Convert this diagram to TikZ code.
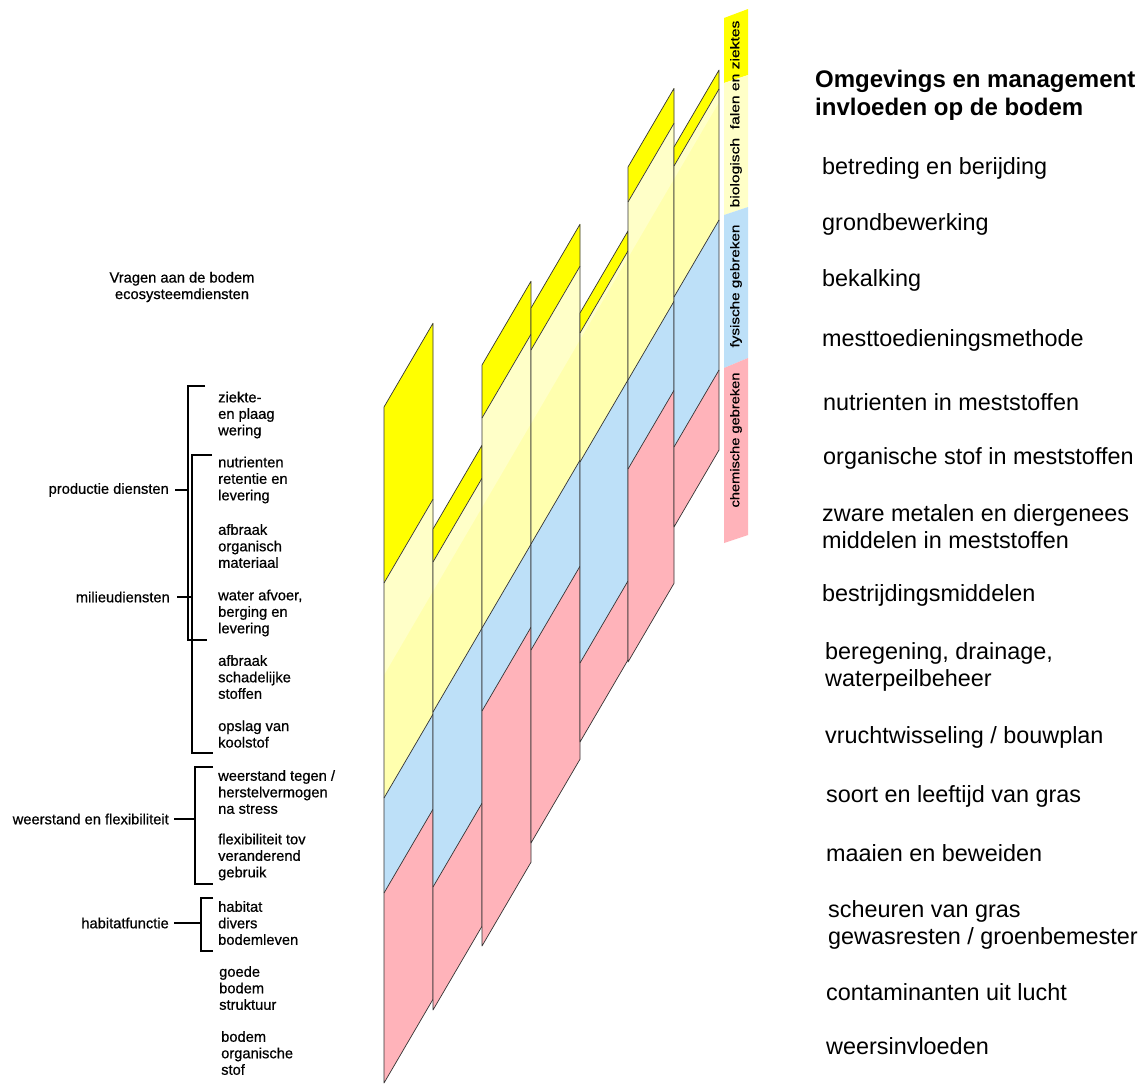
\documentclass[tikz,border=0pt]{standalone}
\usepackage{fontspec}
\setmainfont{Liberation Sans}
\newfontfamily\smallfnt[FakeBold=0.6]{Liberation Sans}
\definecolor{cY}{HTML}{FFFF00}
\definecolor{cPL}{HTML}{FFFFC8}
\definecolor{cPD}{HTML}{FFFFAE}
\definecolor{cB}{HTML}{BDE0F8}
\definecolor{cP}{HTML}{FFB3BA}
\tikzset{
 band/.style={draw=black!80, line width=0.7pt, line join=round},
 brk/.style={line width=1.5pt},
 lbl/.style={inner sep=0, anchor=east, font=\smallfnt\fontsize{14.7}{16.5}\selectfont},
 itm/.style={inner sep=0, anchor=west, align=left, font=\smallfnt\fontsize{14.7}{16.5}\selectfont},
 rit/.style={inner sep=0, anchor=west, align=left, font=\fontsize{23.4}{27}\selectfont},
 bartxt/.style={inner sep=0, rotate=90, font=\smallfnt\fontsize{12.5}{14}\selectfont},
}
\newcommand{\mypanel}[7]{%
 \pgfmathsetmacro{\pdy}{1.71*(#2-#1)}%
 \pgfmathsetmacro{\dva}{675-1.71*(#1-384)}%
 \pgfmathsetmacro{\dvb}{675-1.71*(#2-384)}%
 \fill[cY] (#1,#3) -- (#2,#3-\pdy) -- (#2,#4-\pdy) -- (#1,#4) -- cycle;
 \fill[cPD] (#1,#4) -- (#2,#4-\pdy) -- (#2,#5-\pdy) -- (#1,#5) -- cycle;
 \begin{scope}
 \clip (#1,#4) -- (#2,#4-\pdy) -- (#2,#5-\pdy) -- (#1,#5) -- cycle;
 \fill[cPL] (#1,\dva) -- (#2,\dvb) -- (#2,-50) -- (#1,-50) -- cycle;
 \end{scope}
 \fill[cB] (#1,#5) -- (#2,#5-\pdy) -- (#2,#6-\pdy) -- (#1,#6) -- cycle;
 \fill[cP] (#1,#6) -- (#2,#6-\pdy) -- (#2,#7-\pdy) -- (#1,#7) -- cycle;
 \draw[band] (#1,#3) -- (#2,#3-\pdy) -- (#2,#7-\pdy) -- (#1,#7) -- cycle;
 \draw[band] (#1,#4) -- (#2,#4-\pdy);
 \draw[band] (#1,#5) -- (#2,#5-\pdy);
 \draw[band] (#1,#6) -- (#2,#6-\pdy);
}
\begin{document}
\begin{tikzpicture}[x=1pt,y=-1pt]
\useasboundingbox[fill=white] (0,0) rectangle (1145,1084);

% panels
\mypanel{384}{433}{407}{583}{798}{893}{1083}
\mypanel{433}{482}{529}{562}{712}{887}{1010}
\mypanel{482}{531}{365}{418}{628}{711}{946}
\mypanel{531}{580}{308}{350}{544}{650}{843}
\mypanel{580}{628}{313}{333}{462}{663}{742}
\mypanel{628}{674}{167}{202}{380}{469}{662}
\mypanel{674}{719}{147}{166}{297}{447}{527}

% side bar
\fill[cY] (724,18) -- (748,9) -- (748,75) -- (724,83) -- cycle;
\fill[cPL] (724,83) -- (748,75) -- (748,207) -- (724,215) -- cycle;
\fill[cB] (724,215) -- (748,207) -- (748,358) -- (724,368) -- cycle;
\fill[cP] (724,368) -- (748,358) -- (748,535) -- (724,543) -- cycle;
\node[bartxt] (b1) at (736,114) {\scalebox{1.25}[1]{biologisch\ \ falen en ziektes}};
\node[bartxt] (b2) at (736,286) {\scalebox{1.22}[1]{fysische gebreken}};
\node[bartxt] (b3) at (736,440) {\scalebox{1.17}[1]{chemische gebreken}};

% left header
\node[inner sep=0, align=center, font=\smallfnt\fontsize{14.7}{16.5}\selectfont] (hdr) at (182,287) {Vragen aan de bodem\\ecosysteemdiensten};

% left items
\node[itm] (i1) at (218,415) {ziekte-\\en plaag\\wering};
\node[itm] (i2) at (218,480) {nutrienten\\retentie en\\levering};
\node[itm] (i3) at (218,546) {afbraak\\organisch\\materiaal};
\node[itm] (i4) at (218,613) {water afvoer,\\berging en\\levering};
\node[itm] (i5) at (218,677) {afbraak\\schadelijke\\stoffen};
\node[itm] (i6) at (218,734) {opslag van\\koolstof};
\node[itm] (i7) at (218,792) {weerstand tegen /\\herstelvermogen\\na stress};
\node[itm] (i8) at (218,857) {flexibiliteit tov\\veranderend\\gebruik};
\node[itm] (i9) at (218,923) {habitat\\divers\\bodemleven};
\node[itm] (i10) at (219,988) {goede\\bodem\\struktuur};
\node[itm] (i11) at (221,1053) {bodem\\organische\\stof};

% group labels
\node[lbl] (g1) at (169,490) {productie diensten};
\node[lbl] (g2) at (170,597) {milieudiensten};
\node[lbl] (g3) at (169,819) {weerstand en flexibiliteit};
\node[lbl] (g4) at (169,923) {habitatfunctie};

% brackets
\draw[brk] (205,386) -- (188,386) -- (188,640) -- (207,640);
\draw[brk] ([xshift=6pt]g1.east) -- (188,490);
\draw[brk] (212,455) -- (192,455) -- (192,753) -- (213,753);
\draw[brk] ([xshift=7pt]g2.east) -- (192,597);
\draw[brk] (213,767) -- (195,767) -- (195,884) -- (213,884);
\draw[brk] ([xshift=5pt]g3.east) -- (195,819);
\draw[brk] (213,898) -- (201,898) -- (201,951) -- (213,951);
\draw[brk] ([xshift=5pt]g4.east) -- (201,923);

% right title and items
\node[inner sep=0, anchor=west, align=left, font=\bfseries\fontsize{24}{28}\selectfont] (ttl) at (815,95) {Omgevings en management\\invloeden op de bodem};
\node[rit] (r1) at (822,168) {betreding en berijding};
\node[rit] (r2) at (822,224) {grondbewerking};
\node[rit] (r3) at (822,280) {bekalking};
\node[rit] (r4) at (822,340) {mesttoedieningsmethode};
\node[rit] (r5) at (823,402) {nutrienten in meststoffen};
\node[rit] (r6) at (823,458) {organische stof in meststoffen};
\node[rit] (r7) at (822,527) {zware metalen en diergenees\\middelen in meststoffen};
\node[rit] (r8) at (822,595) {bestrijdingsmiddelen};
\node[rit] (r9) at (825,667) {beregening, drainage,\\waterpeilbeheer};
\node[rit] (r10) at (825,737) {vruchtwisseling / bouwplan};
\node[rit] (r11) at (826,796) {soort en leeftijd van gras};
\node[rit] (r12) at (826,853) {maaien en beweiden};
\node[rit] (r13) at (828,925) {scheuren van gras\\gewasresten / groenbemester};
\node[rit] (r14) at (826,992) {contaminanten uit lucht};
\node[rit] (r15) at (826,1046) {weersinvloeden};
\end{tikzpicture}
\end{document}
